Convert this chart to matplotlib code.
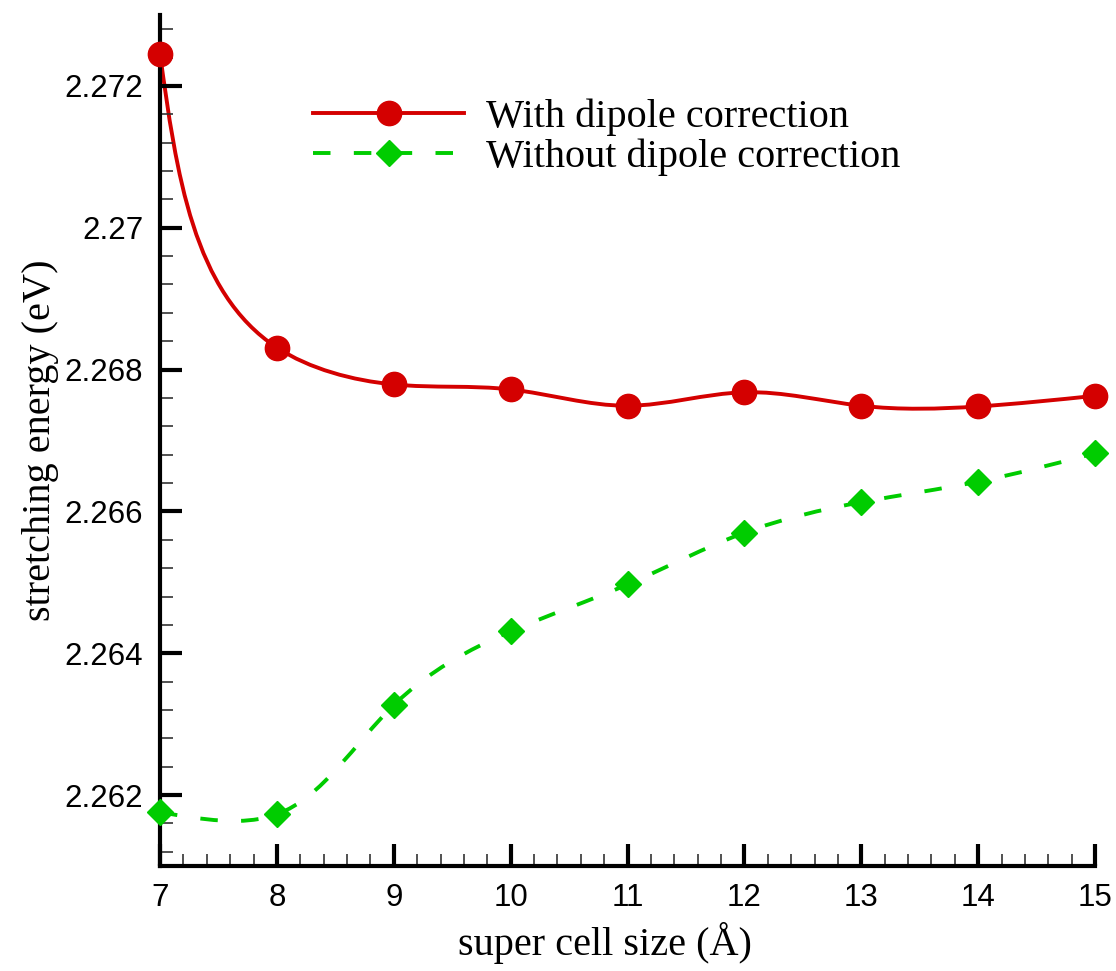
import numpy as np
from matplotlib import pyplot as plt, ticker
from matplotlib.path import Path
from matplotlib.patches import PathPatch
from matplotlib.lines import Line2D

cell_size = [7, 8, 9, 10, 11, 12, 13, 14, 15]
with_dipole = [2.27245, 2.26831, 2.26779, 2.26772, 2.26749, 2.26768, 2.26749, 2.26748, 2.26763]
without_dipole = [2.26176, 2.26173, 2.26327, 2.26431, 2.26497, 2.26570, 2.26613, 2.26642, 2.26682]

RED = '#d40000'
GREEN = '#00cc00'


def natural_slopes(t, v):
    n = len(t)
    h = np.diff(t)
    a = np.zeros((n, n))
    b = np.zeros(n)
    a[0, 0] = a[-1, -1] = 1
    for i in range(1, n - 1):
        a[i, i - 1] = h[i - 1]
        a[i, i] = 2 * (h[i - 1] + h[i])
        a[i, i + 1] = h[i]
        b[i] = 6 * ((v[i + 1] - v[i]) / h[i] - (v[i] - v[i - 1]) / h[i - 1])
    m = np.linalg.solve(a, b)
    d = np.zeros(n)
    for i in range(n - 1):
        d[i] = (v[i + 1] - v[i]) / h[i] - h[i] * (2 * m[i] + m[i + 1]) / 6
    d[-1] = (v[-1] - v[-2]) / h[-1] + h[-1] * (m[-2] + 2 * m[-1]) / 6
    return d


def spline_path(x, y, sx, sy):
    """Parametric cubic spline (chord-length in screen scale) as Bezier segments."""
    x = np.asarray(x, float)
    y = np.asarray(y, float)
    seg = np.hypot(np.diff(x) * sx, np.diff(y) * sy)
    t = np.concatenate([[0], np.cumsum(seg)])
    h = np.diff(t)
    dx = natural_slopes(t, x)
    dy = natural_slopes(t, y)
    verts = [(x[0], y[0])]
    codes = [Path.MOVETO]
    for i in range(len(x) - 1):
        verts += [(x[i] + h[i] * dx[i] / 3, y[i] + h[i] * dy[i] / 3),
                  (x[i + 1] - h[i] * dx[i + 1] / 3, y[i + 1] - h[i] * dy[i + 1] / 3),
                  (x[i + 1], y[i + 1])]
        codes += [Path.CURVE4] * 3
    return Path(verts, codes)


fig = plt.figure(figsize=(11.16, 9.71), dpi=100)
ax = fig.add_axes([0.1434, 0.1081, 0.8378, 0.8765])
ax.set_xlim(7, 15)
ax.set_ylim(2.261, 2.273)

# pixels per data unit, used for the spline parametrisation
sx = 935 / 8
sy = 851 / 0.012

ax.add_patch(PathPatch(spline_path(cell_size, with_dipole, sx, sy), fill=False,
                       edgecolor=RED, lw=2.8, clip_on=False))
ax.add_patch(PathPatch(spline_path(cell_size, without_dipole, sx, sy), fill=False,
                       edgecolor=GREEN, lw=2.8, linestyle=(0, (4.5, 6)), clip_on=False))
ax.plot(cell_size, with_dipole, 'o', color=RED, ms=17.5, clip_on=False, zorder=5)
ax.plot(cell_size, without_dipole, 'D', color=GREEN, ms=13, clip_on=False, zorder=5)

ax.xaxis.set_major_locator(ticker.MultipleLocator(1))
ax.xaxis.set_minor_locator(ticker.MultipleLocator(0.2))
ax.yaxis.set_major_locator(ticker.FixedLocator([2.262, 2.264, 2.266, 2.268, 2.270, 2.272]))
ax.yaxis.set_minor_locator(ticker.MultipleLocator(0.0004))
ax.yaxis.set_major_formatter(ticker.FuncFormatter(lambda v, p: f'{v:.3f}'.rstrip('0')))

for side in ('top', 'right'):
    ax.spines[side].set_visible(False)
for side in ('left', 'bottom'):
    ax.spines[side].set_linewidth(3)

ax.tick_params(which='major', direction='in', length=16, width=3, pad=12,
               labelsize=22.5, labelfontfamily='Liberation Sans')
ax.tick_params(which='minor', direction='in', length=9, width=1.2, color='#333333')

ax.set_xlabel('super cell size (Å)', family='Liberation Serif', fontsize=29, labelpad=10)
ax.xaxis.set_label_coords(0.476, -0.066, transform=ax.transAxes)
ax.xaxis.label.set_va('top')
ax.set_ylabel('stretching energy (eV)', family='Liberation Serif', fontsize=29, labelpad=4)

handles = [
    Line2D([], [], color=RED, lw=2.8, marker='o', ms=17.5),
    Line2D([], [], color=GREEN, lw=2.8, linestyle=(0, (4.5, 6)), marker='D', ms=13),
]
ax.legend(handles, ['With dipole correction', 'Without dipole correction'],
          loc='upper left', bbox_to_anchor=(313 / 1116, 1 - 99 / 971),
          bbox_transform=fig.transFigure, frameon=False, borderaxespad=0, borderpad=0,
          prop={'family': 'Liberation Serif', 'size': 29},
          handlelength=3.75, handletextpad=0.55, labelspacing=0.05)

plt.savefig('out.png')
